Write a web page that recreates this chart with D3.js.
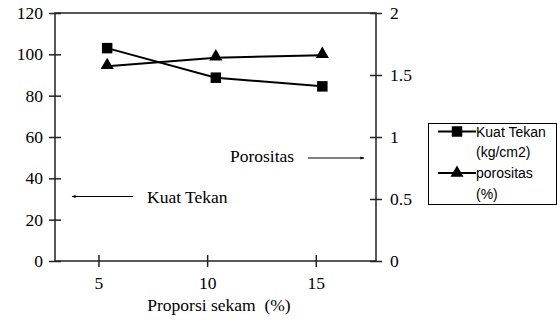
<!DOCTYPE html>
<html>
<head>
<meta charset="utf-8">
<script src="https://cdn.jsdelivr.net/npm/d3@7"></script>
<style>
  body { margin: 0; background: #fff; }
  svg { display: block; }
  text { font-family: "Liberation Serif", "Times New Roman", serif; fill: #000; }
  .legend text { font-family: "Liberation Sans", Arial, sans-serif; }
</style>
</head>
<body>
<svg id="chart" width="557" height="320"></svg>
<script>
// proporsi sekam (%) as plotted
var proporsi = [5.4, 10.4, 15.3];
// kuat tekan (kg/cm2)
var kuatTekan = [103, 88.7, 84.5];
// porositas (%)
var porositas = [1.57, 1.64, 1.66];

var xTicks = [5, 10, 15];
var leftTicks = [0, 20, 40, 60, 80, 100, 120];
var rightTicks = [0, 0.5, 1, 1.5, 2];

var svg = d3.select('#chart');

// plot area edges (note: "top" is reserved on window)
var plotL = 55, plotR = 376, plotT = 13, plotB = 261;

var x = d3.scaleLinear().domain([3, 17.77]).range([plotL, plotR]);
var yLeft = d3.scaleLinear().domain([0, 120]).range([plotB, plotT]);
var yRight = d3.scaleLinear().domain([0, 2]).range([plotB, plotT]);

// frame
svg.append('rect')
    .attr('x', plotL).attr('y', plotT)
    .attr('width', plotR - plotL).attr('height', plotB - plotT)
    .attr('fill', 'none').attr('stroke', '#222').attr('stroke-width', 1.5);

// axes
var axL = svg.append('g').attr('transform', 'translate(' + plotL + ',0)')
    .call(d3.axisLeft(yLeft).tickValues(leftTicks).tickSize(6).tickPadding(6));
var axR = svg.append('g').attr('transform', 'translate(' + plotR + ',0)')
    .call(d3.axisRight(yRight).tickValues(rightTicks).tickFormat(d3.format('~g')).tickSize(6).tickPadding(8));
var axB = svg.append('g').attr('transform', 'translate(0,' + plotB + ')')
    .call(d3.axisBottom(x).tickValues(xTicks).tickSize(6).tickPadding(10));

[axL, axR, axB].forEach(function (ax) {
    ax.attr('font-family', '"Liberation Serif", "Times New Roman", serif').attr('font-size', 17.5);
    ax.select('.domain').remove();
    ax.selectAll('text').attr('fill', '#000');
    ax.selectAll('line').attr('stroke', '#222').attr('stroke-width', 1.5);
});
// ticks cross the axis lines
axL.selectAll('.tick line').attr('x1', 6).attr('x2', -6);
axR.selectAll('.tick line').attr('x1', -6).attr('x2', 6);
axB.selectAll('.tick line').attr('y1', -6).attr('y2', 6);

// axis title
svg.append('text')
    .attr('x', 219).attr('y', 311)
    .attr('text-anchor', 'middle')
    .attr('font-size', 17.5)
    .style('white-space', 'pre')
    .text('Proporsi sekam  (%)');

// series
var line1 = d3.line().x(function (d, i) { return x(proporsi[i]); }).y(function (d) { return yLeft(d); });
var line2 = d3.line().x(function (d, i) { return x(proporsi[i]); }).y(function (d) { return yRight(d); });

svg.append('path').attr('d', line1(kuatTekan))
    .attr('fill', 'none').attr('stroke', '#000').attr('stroke-width', 2);
svg.append('path').attr('d', line2(porositas))
    .attr('fill', 'none').attr('stroke', '#000').attr('stroke-width', 2);

var sq = d3.symbol().type(d3.symbolSquare).size(110);
var tri = d3.symbol().type(d3.symbolTriangle).size(75);

svg.selectAll('.sq').data(kuatTekan).enter().append('path')
    .attr('class', 'sq')
    .attr('d', sq)
    .attr('transform', function (d, i) { return 'translate(' + x(proporsi[i]) + ',' + yLeft(d) + ')'; });

svg.selectAll('.tri').data(porositas).enter().append('path')
    .attr('class', 'tri')
    .attr('d', tri)
    .attr('transform', function (d, i) { return 'translate(' + x(proporsi[i]) + ',' + (yRight(d) - 1) + ')'; });

// annotations with arrows
var defs = svg.append('defs');
defs.append('marker').attr('id', 'arrow')
    .attr('viewBox', '0 0 10 10').attr('refX', 9).attr('refY', 5)
    .attr('markerWidth', 5).attr('markerHeight', 4).attr('orient', 'auto')
    .append('path').attr('d', 'M0,1 L10,5 L0,9 Z').attr('fill', '#000');

svg.append('text').attr('x', 230).attr('y', 162).attr('font-size', 17.5).text('Porositas');
svg.append('line').attr('x1', 308).attr('y1', 158).attr('x2', 364).attr('y2', 158)
    .attr('stroke', '#000').attr('stroke-width', 1).attr('marker-end', 'url(#arrow)');

svg.append('text').attr('x', 147).attr('y', 203).attr('font-size', 17.5).text('Kuat Tekan');
svg.append('line').attr('x1', 133).attr('y1', 196.5).attr('x2', 72).attr('y2', 196.5)
    .attr('stroke', '#000').attr('stroke-width', 1).attr('marker-end', 'url(#arrow)');

// legend
var lg = svg.append('g').attr('class', 'legend');
lg.append('rect').attr('x', 428.5).attr('y', 123.5).attr('width', 128).attr('height', 81)
    .attr('fill', '#fff').attr('stroke', '#000').attr('stroke-width', 1);

var legendItems = [
    { lines: ['Kuat Tekan', '(kg/cm2)'], sym: sq, y: 131.5 },
    { lines: ['porositas', '(%)'], sym: tri, y: 173 }
];
legendItems.forEach(function (it) {
    lg.append('line').attr('x1', 438).attr('x2', 476).attr('y1', it.y).attr('y2', it.y)
        .attr('stroke', '#000').attr('stroke-width', 2);
    lg.append('path').attr('d', it.sym)
        .attr('transform', 'translate(457,' + it.y + ')');
    it.lines.forEach(function (t, j) {
        lg.append('text').attr('x', 476).attr('y', it.y + 5 + j * 20.5)
            .attr('font-size', 14).text(t);
    });
});
</script>
</body>
</html>
